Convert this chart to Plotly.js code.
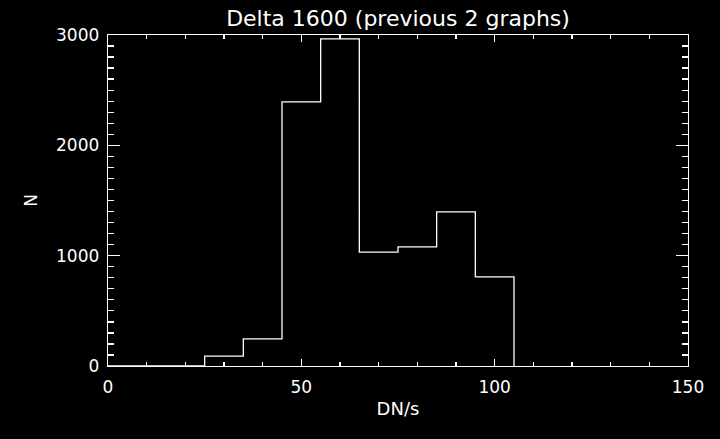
<!DOCTYPE html>
<html>
<head>
<meta charset="utf-8">
<script src="https://cdn.plot.ly/plotly-3.0.1.min.js"></script>
<style>
html,body{margin:0;padding:0;background:#000;}
#chart{width:720px;height:439px;}
</style>
</head>
<body>
<div id="chart"></div>
<script>
// Data
const binCenters = [30, 40, 50, 60, 70, 80, 90, 100];
const counts = [90, 245, 2393, 2964, 1033, 1079, 1396, 807];
const xTickVals = [0, 50, 100, 150];
const yTickVals = [0, 1000, 2000, 3000];
const titleText = "Delta 1600 (previous 2 graphs)";
const xLabel = "DN/s";
const yLabel = "N";

// Build step outline (IDL psym=10 style) from bin centers
const binWidth = binCenters[1] - binCenters[0];
const stepX = [];
const stepY = [];
stepX.push(0); stepY.push(0);
stepX.push(binCenters[0] - binWidth / 2); stepY.push(0);
for (let i = 0; i < binCenters.length; i++) {
  stepX.push(binCenters[i] - binWidth / 2); stepY.push(counts[i]);
  stepX.push(binCenters[i] + binWidth / 2); stepY.push(counts[i]);
}
stepX.push(binCenters[binCenters.length - 1] + binWidth / 2); stepY.push(0);

const font = {family: "DejaVu Sans", color: "#ffffff"};

const trace = {
  x: stepX, y: stepY, type: "scatter", mode: "lines",
  line: {color: "#ffffff", width: 1.3, shape: "linear"},
  hoverinfo: "skip", showlegend: false
};

const axisCommon = {
  showgrid: false, zeroline: false, showline: true, linecolor: "#ffffff",
  linewidth: 1.3, mirror: "ticks", ticks: "inside", tickcolor: "#ffffff",
  tickwidth: 1.3, tickfont: Object.assign({size: 17}, font)
};

const layout = {
  width: 720, height: 439,
  paper_bgcolor: "#000000", plot_bgcolor: "#000000",
  margin: {l: 108, r: 32, t: 35, b: 73},
  title: {text: titleText, font: Object.assign({size: 22}, font),
          x: 0.5528, xref: "container", xanchor: "center",
          y: 0.958, yref: "container", yanchor: "middle"},
  xaxis: Object.assign({}, axisCommon, {
    range: [0, 150], tickvals: xTickVals, ticklen: 7,
    minor: {dtick: 10, ticklen: 4, ticks: "inside", tickcolor: "#ffffff", tickwidth: 1.3},
    ticklabelstandoff: 5,
    title: {text: xLabel, font: Object.assign({size: 18}, font), standoff: 6}
  }),
  yaxis: Object.assign({}, axisCommon, {
    range: [0, 3000], tickvals: yTickVals, ticklen: 12,
    minor: {dtick: 100, ticklen: 6, ticks: "inside", tickcolor: "#ffffff", tickwidth: 1.3},
    ticklabelstandoff: 4,
    title: {text: yLabel, font: Object.assign({size: 17}, font), standoff: 14}
  })
};

Plotly.newPlot("chart", [trace], layout, {displayModeBar: false, staticPlot: true});
</script>
</body>
</html>
